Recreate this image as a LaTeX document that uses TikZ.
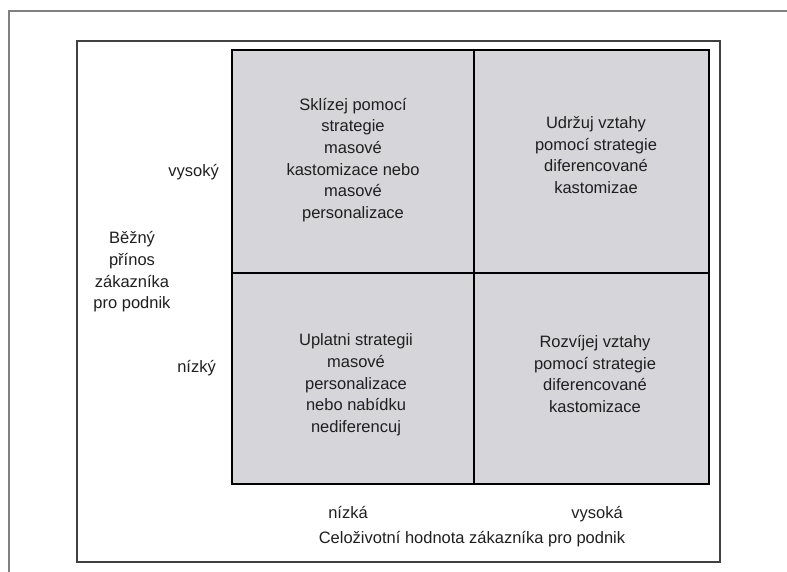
\documentclass[tikz,border=0pt]{standalone}
\usepackage{fontspec}
\setmainfont{Liberation Sans}
\definecolor{cellgray}{RGB}{214,214,218}
\definecolor{framegray}{RGB}{64,64,64}
\definecolor{pagegray}{RGB}{128,128,128}
\tikzset{
  lbl/.style={inner sep=0pt, align=center, text=black!88, font=\fontsize{16.5}{21.7}\selectfont},
  cell/.style={fill=cellgray, draw=black, line width=1.4pt},
}
\begin{document}
\begin{tikzpicture}[x=1pt,y=-1pt]
\useasboundingbox (0,0) rectangle (787,572);
% page border (only left and top visible)
\coordinate (pb1) at (9,572);
\coordinate (pb2) at (9,11);
\coordinate (pb3) at (787,11);
\draw[pagegray, line width=2.2pt] (pb1) -- (pb2) -- (pb3);
% inner frame
\draw[framegray, line width=1.3pt] (77,41) rectangle (720,562);
% grid
\filldraw[cell] (232,50) rectangle (709,484);
\coordinate (vt) at (474,50);
\coordinate (vb) at (474,484);
\coordinate (hl) at (232,273);
\coordinate (hr) at (709,273);
\draw[black, line width=1.4pt] (vt) -- (vb);
\draw[black, line width=1.4pt] (hl) -- (hr);
% quadrant texts
\node[lbl] (tl) at (353,160) {Sklízej pomocí\\strategie\\masové\\kastomizace nebo\\masové\\personalizace};
\node[lbl] (tr) at (596,155) {Udržuj vztahy\\pomocí strategie\\diferencované\\kastomizae};
\node[lbl] (bl) at (356,385) {Uplatni strategii\\masové\\personalizace\\nebo nabídku\\nediferencuj};
\node[lbl] (br) at (595,374) {Rozvíjej vztahy\\pomocí strategie\\diferencované\\kastomizace};
% axis labels
\node[lbl, anchor=base east] (vy) at (219,177) {vysoký};
\node[lbl, anchor=base east] (ni) at (216,372) {nízký};
\node[lbl] (ylab) at (132,272) {Běžný\\přínos\\zákazníka\\pro podnik};
\node[lbl, anchor=base] (xn) at (348,518) {nízká};
\node[lbl, anchor=base] (xv) at (597,518) {vysoká};
\node[lbl, anchor=base] (xlab) at (472,543) {Celoživotní hodnota zákazníka pro podnik};
\end{tikzpicture}
\end{document}
